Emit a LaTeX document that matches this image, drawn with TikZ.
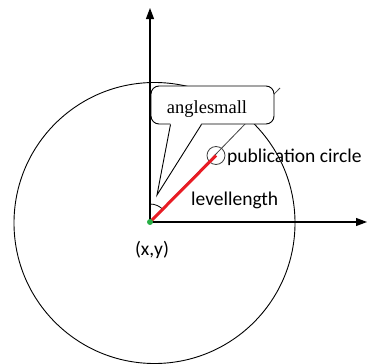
\documentclass[tikz,border=0pt]{standalone}
\usepackage{fontspec}
\setmainfont{Liberation Serif}
\newfontfamily\labelfont{Carlito}
\usetikzlibrary{arrows.meta}
\definecolor{dotgreen}{RGB}{40,175,70}
\definecolor{levelred}{RGB}{232,28,36}

\begin{document}
\begin{tikzpicture}[x=1pt, y=-1pt,
  axis/.style={line width=1.1pt, -{Triangle[length=11pt,width=8pt]}},
  lbl/.style={font=\labelfont\fontsize{19.5}{21}\selectfont, inner sep=0pt},
  bubble/.style={draw, line width=0.9pt, fill=white, rounded corners=8pt,
                 minimum width=123pt, minimum height=38pt, inner sep=0pt}]
 \useasboundingbox (0,0) rectangle (367,364);
 % reference point and big circle
 \coordinate (o) at (150,222);
 \coordinate (ytip) at (150,8);
 \coordinate (xtip) at (367,222);
 \coordinate (far) at (280,88);
 \draw[line width=0.9pt] (154.5,223) circle[radius=140.5];
 \draw[line width=0.8pt, black!75] (o) -- (far);
 % speech bubble
 \node[bubble] (bub) at (212.5,105) {};
 \node[font=\fontsize{18.5}{20}\selectfont, inner sep=0pt] (angtxt) at (207,109) {anglesmall};
 \coordinate (tip) at (157,195);
 \fill[white] ([xshift=-42pt,yshift=1.5pt]bub.south) -- (tip) -- ([xshift=-11pt,yshift=1.5pt]bub.south) -- cycle;
 \draw[line width=0.9pt] ([xshift=-42pt]bub.south) -- (tip) -- ([xshift=-11pt]bub.south);
 % axes
 \draw[axis] (o) -- (ytip);
 \draw[axis] (o) -- (xtip);
 \draw[line width=0.8pt] (o) ++(0,-18) arc[start angle=-90, end angle=-42, radius=18];
 % publication circle and level length
 \node[circle, draw, line width=0.8pt, black!75, minimum size=18pt, inner sep=0pt] (pub) at (216,155.5) {};
 \draw[levelred, line width=3pt] (o) -- (pub.center);
 \node[circle, fill=dotgreen, minimum size=6pt, inner sep=0pt] (dot) at (o) {};
 \node[lbl, anchor=west] (pubtxt) at (227,157) {publication circle};
 \node[lbl, anchor=west] (lentxt) at (191,200) {levellength};
 \node[lbl] (xytxt) at (152,250) {(x,y)};
\end{tikzpicture}
\end{document}
